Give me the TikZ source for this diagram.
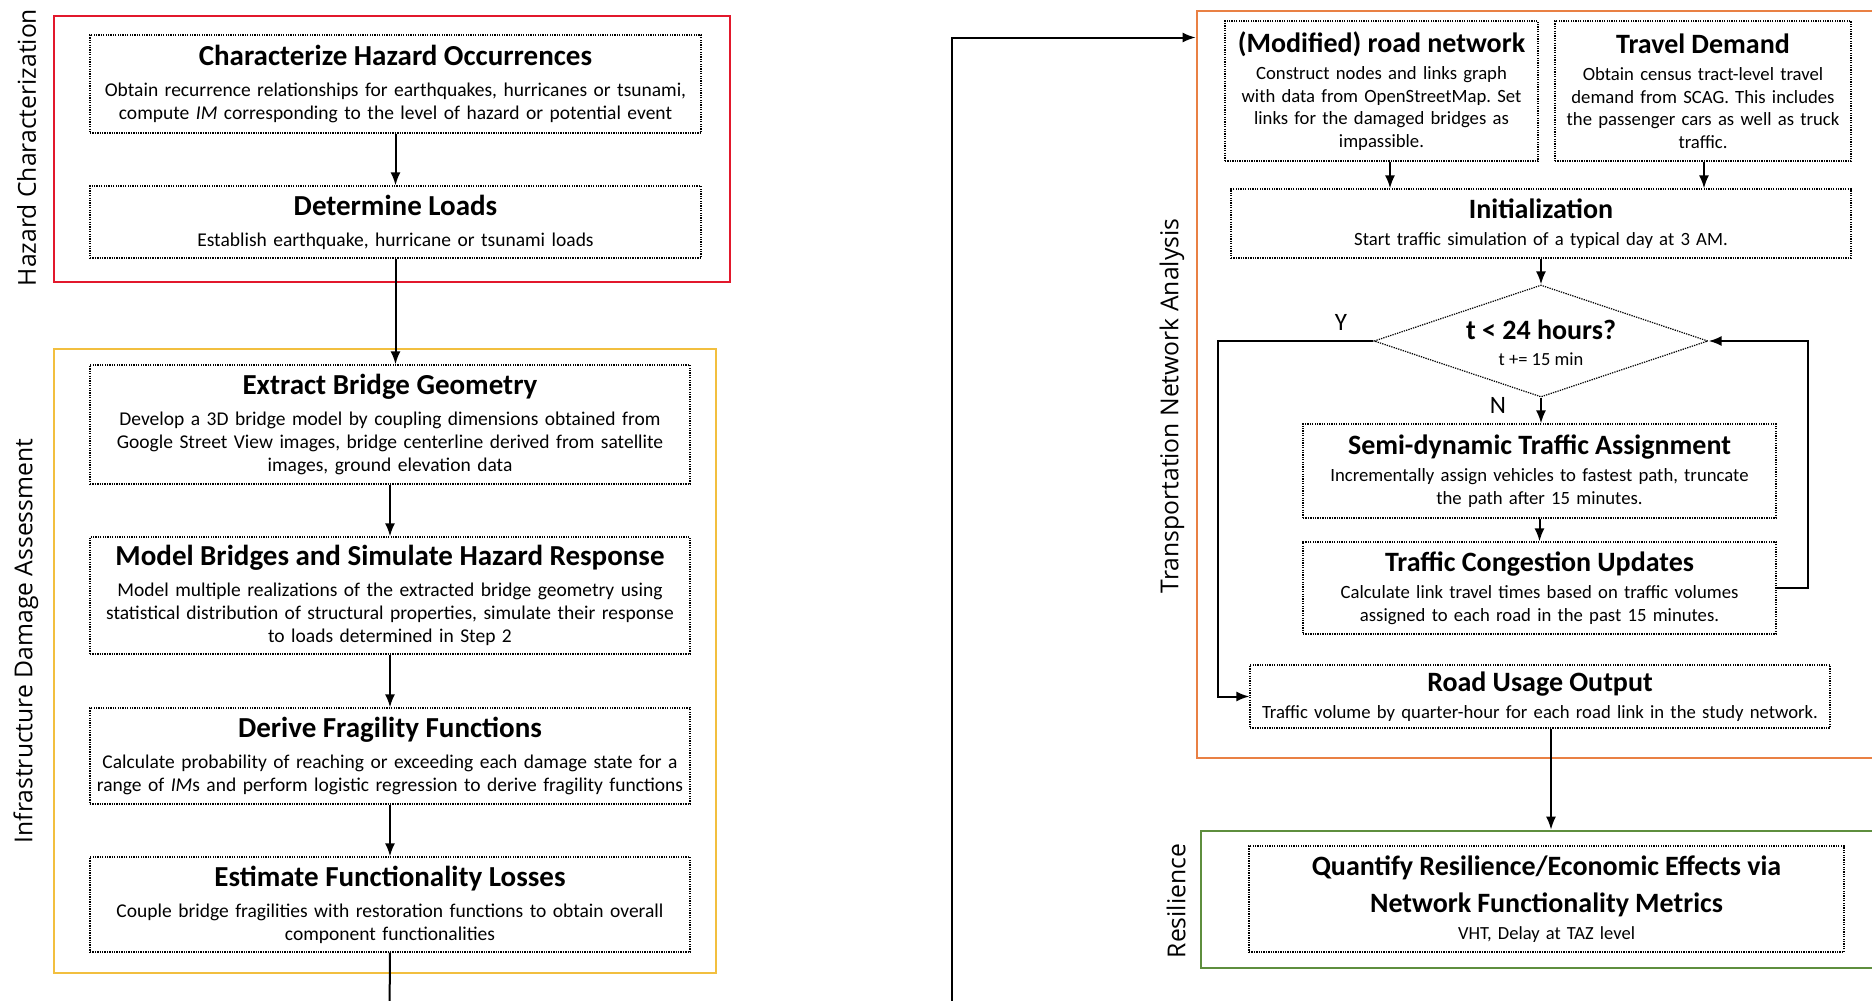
\documentclass[tikz,border=0pt]{standalone}
\usepackage{fontspec}
\setmainfont{Carlito}
\newfontfamily\lanefont{Open Sans}
\usetikzlibrary{shapes.geometric,arrows.meta}
\definecolor{hzred}{HTML}{E2182C}
\definecolor{idagold}{HTML}{F2BF3F}
\definecolor{tnaorange}{HTML}{E98044}
\definecolor{resgreen}{HTML}{5E8E3E}
\frenchspacing
\hyphenpenalty=10000
\newcommand{\steptitle}[1]{{\fontsize{29}{31}\selectfont\bfseries #1}}
\newcommand{\rsteptitle}[1]{{\fontsize{28}{30}\selectfont\bfseries #1}}
\tikzset{
  stepbox/.style={draw, line width=1.2pt, dash pattern=on 1.3pt off 1.1pt,
    rectangle, inner sep=0pt, align=center, font=\fontsize{19.5}{23}\selectfont},
  rstepbox/.style={stepbox, font=\fontsize{18.7}{22.5}\selectfont},
  panel/.style={draw=#1, line width=2.6pt, rectangle, inner sep=0pt},
  conn/.style={draw, line width=2pt, -{Latex[length=13pt,width=10pt]}},
  plain/.style={draw, line width=2pt},
  lane/.style={rotate=90, inner sep=0pt, font=\lanefont\fontsize{24.7}{28}\selectfont},
  yn/.style={inner sep=0pt, font=\fontsize{25}{28}\selectfont},
}
\begin{document}
\begin{tikzpicture}[x=1pt,y=-1pt]
\useasboundingbox (0,0) rectangle (1872,1001);
\clip (0,0) rectangle (1872,1001);
\fill[white] (0,0) rectangle (1872,1001);

% phase panels
\node[panel=hzred, minimum width=676pt, minimum height=266pt] (hz) at (392,149) {};
\node[panel=idagold, minimum width=662pt, minimum height=624pt] (ida) at (385,661) {};
\node[panel=tnaorange, minimum width=723pt, minimum height=747pt] (tna) at (1558.5,384.5) {};
\node[panel=resgreen, minimum width=719pt, minimum height=137pt] (resp) at (1560.5,899.5) {};

% phase labels
\node[lane] (lhz) at (26.5,147.5) {Hazard Characterization};
\node[lane] (lida) at (26,641) {Infrastructure Damage Assessment};
\node[lane] (ltna) at (1172,406) {Transportation Network Analysis};
\node[lane] (lres) at (1176,901) {Resilience};

% hazard and damage steps
\node[stepbox, minimum width=611pt, minimum height=98pt, text width=600pt] (b1) at (395.5,84)
  {\steptitle{Characterize Hazard Occurrences}\\[8pt]
   Obtain recurrence relationships for earthquakes, hurricanes or tsunami,\\
   compute \textit{IM} corresponding to the level of hazard or potential event};
\node[stepbox, minimum width=611pt, minimum height=72pt, text width=600pt] (b2) at (395.5,222)
  {\steptitle{Determine Loads}\\[8pt]
   Establish earthquake, hurricane or tsunami loads};
\node[stepbox, minimum width=600pt, minimum height=119pt, text width=590pt] (b3) at (390,424.5)
  {\steptitle{Extract Bridge Geometry}\\[8pt]
   Develop a 3D bridge model by coupling dimensions obtained from\\
   Google Street View images, bridge centerline derived from satellite\\
   images, ground elevation data};
\node[stepbox, minimum width=600pt, minimum height=117pt, text width=590pt] (b4) at (390,595.5)
  {\steptitle{Model Bridges and Simulate Hazard Response}\\[8pt]
   Model multiple realizations of the extracted bridge geometry using\\
   statistical distribution of structural properties, simulate their response\\
   to loads determined in Step 2};
\node[stepbox, minimum width=600pt, minimum height=96pt, text width=590pt] (b5) at (390,756)
  {\steptitle{Derive Fragility Functions}\\[8pt]
   Calculate probability of reaching or exceeding each damage state for a\\
   range of \textit{IM}s and perform logistic regression to derive fragility functions};
\node[stepbox, minimum width=600pt, minimum height=95pt, text width=590pt] (b6) at (390,904.5)
  {\steptitle{Estimate Functionality Losses}\\[8pt]
   Couple bridge fragilities with restoration functions to obtain overall\\
   component functionalities};

% transportation network steps
\node[rstepbox, minimum width=313pt, minimum height=140pt, text width=305pt] (r1) at (1381.5,91)
  {\rsteptitle{(Modified) road network}\\[5pt]
   Construct nodes and links graph\\
   with data from OpenStreetMap. Set\\
   links for the damaged bridges as\\
   impassible.};
\node[rstepbox, minimum width=296pt, minimum height=140pt, text width=290pt] (r2) at (1703,91)
  {\rsteptitle{Travel Demand}\\[5pt]
   Obtain census tract-level travel\\
   demand from SCAG. This includes\\
   the passenger cars as well as truck\\
   traffic.};
\node[rstepbox, minimum width=620pt, minimum height=69pt, text width=610pt] (init) at (1541,223.5)
  {\rsteptitle{Initialization}\\[5pt]
   Start traffic simulation of a typical day at 3 AM.};
\node[diamond, draw, line width=1.2pt, dash pattern=on 1.3pt off 1.1pt, inner sep=0pt,
  minimum width=334pt, minimum height=112pt] (dec) at (1541,341) {};
\node[align=center, inner sep=0pt, font=\fontsize{18.5}{22}\selectfont] (dectext) at (1541,343)
  {\rsteptitle{t < 24 hours?}\\[4pt] t += 15 min};
\node[rstepbox, minimum width=473pt, minimum height=94pt, text width=465pt] (semi) at (1539.5,471)
  {\rsteptitle{Semi-dynamic Traffic Assignment}\\[5pt]
   Incrementally assign vehicles to fastest path, truncate\\
   the path after 15 minutes.};
\node[rstepbox, minimum width=473pt, minimum height=92pt, text width=465pt] (cong) at (1539.5,588)
  {\rsteptitle{Traffic Congestion Updates}\\[5pt]
   Calculate link travel times based on traffic volumes\\
   assigned to each road in the past 15 minutes.};
\node[rstepbox, minimum width=580pt, minimum height=63pt, text width=575pt] (out) at (1540,696.5)
  {\rsteptitle{Road Usage Output}\\[4pt]
   Traffic volume by quarter-hour for each road link in the study network.};
\node[stepbox, minimum width=595pt, minimum height=106pt, text width=585pt,
  font=\fontsize{18.5}{22}\selectfont] (resb) at (1546.5,899)
  {\rsteptitle{Quantify Resilience/Economic Effects via}\\[12pt]
   \rsteptitle{Network Functionality Metrics}\\[5pt]
   VHT, Delay at TAZ level};

\node[yn] (ylab) at (1341,322) {Y};
\node[yn] (nlab) at (1498,405) {N};

% helper points for the connectors
\coordinate (downL) at (389.5,1015);
\coordinate (upR) at (952,1015);
\coordinate (yTop) at (0,37.5);
\coordinate (xR1) at (1390,0);
\coordinate (xR2) at (1704,0);
\coordinate (xOut) at (1551,0);

% connectors, left column
\draw[conn] (b1) -- (b2);
\draw[conn] (b2.south) -- (b2.south |- b3.north);
\draw[conn] (b3) -- (b4);
\draw[conn] (b4) -- (b5);
\draw[conn] (b5) -- (b6);
\draw[plain] (b6.south) -- (downL);
\draw[conn] (upR) |- (tna.west |- yTop);

% connectors, right column
\draw[conn] (r1.south -| xR1) -- (init.north -| xR1);
\draw[conn] (r2.south -| xR2) -- (init.north -| xR2);
\draw[conn] (init) -- (dec);
\draw[conn] (dec.south) -- (dec.south |- semi.north);
\draw[conn] (semi) -- (cong);
\draw[conn] (cong.east) -- ++(31,0) |- (dec.east);
\draw[conn] (dec.west) -- ++(-155,0) |- (out.west);
\draw[conn] (out.south -| xOut) -- (resp.north -| xOut);
\end{tikzpicture}
\end{document}
